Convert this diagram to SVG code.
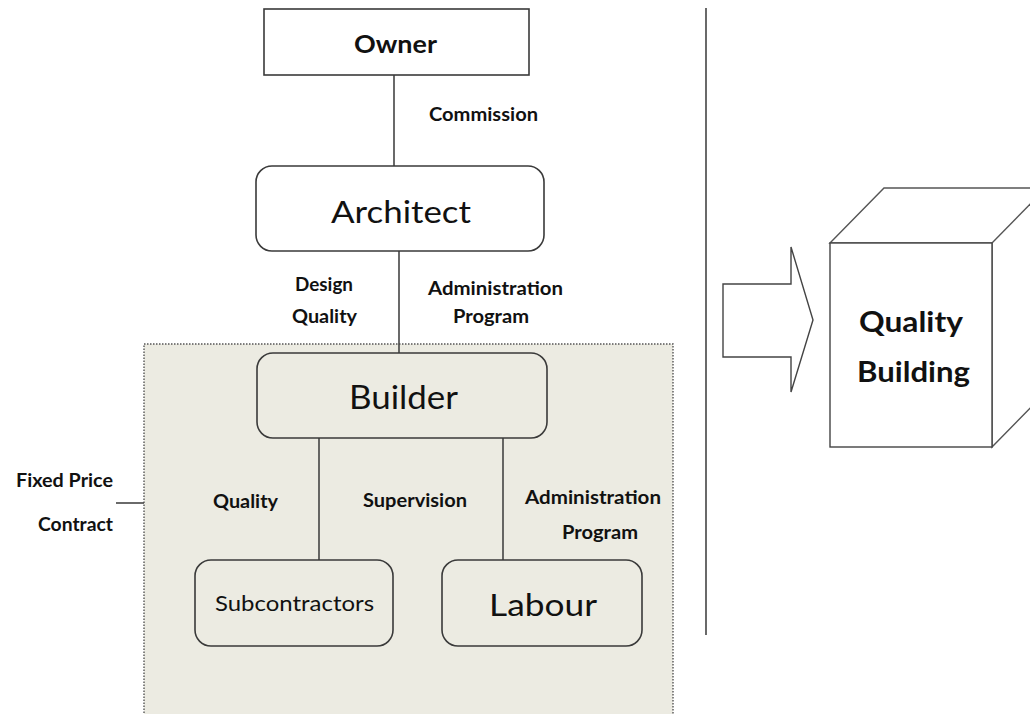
<svg xmlns="http://www.w3.org/2000/svg" width="1030" height="714" viewBox="0 0 1030 714">
<style>
.box{fill:none;stroke:#3a3a3a;stroke-width:1.6}
.wbox{fill:#ffffff;stroke:#3a3a3a;stroke-width:1.6}
.ln{stroke:#444;stroke-width:1.6;fill:none}
.t{font-family:Lato,"Open Sans","Liberation Sans",sans-serif;fill:#111}
.b{font-family:Lato,"Open Sans","Liberation Sans",sans-serif;font-weight:bold;fill:#111}
</style>
<rect width="1030" height="714" fill="#ffffff"/>
<g id="contract-zone">
<rect x="144" y="344" width="529" height="380" fill="#ecebe2" stroke="#555" stroke-width="1.4" stroke-dasharray="1.5 1.5"/>
</g>
<g id="connectors">
<line class="ln" x1="394" y1="75" x2="394" y2="166"/>
<line class="ln" x1="399" y1="251" x2="399" y2="353"/>
<line class="ln" x1="319" y1="438" x2="319" y2="560"/>
<line class="ln" x1="503" y1="438" x2="503" y2="560"/>
<line class="ln" x1="116" y1="503" x2="144" y2="503"/>
<line class="ln" x1="706" y1="8" x2="706" y2="635"/>
</g>
<g id="labels">
<text class="b" x="429" y="121" font-size="18" textLength="109" lengthAdjust="spacingAndGlyphs">Commission</text>
<text class="b" x="295" y="291" font-size="18" textLength="58" lengthAdjust="spacingAndGlyphs">Design</text>
<text class="b" x="292" y="323" font-size="18" textLength="65" lengthAdjust="spacingAndGlyphs">Quality</text>
<text class="b" x="428" y="295" font-size="18" textLength="135" lengthAdjust="spacingAndGlyphs">Administration</text>
<text class="b" x="453" y="323" font-size="18" textLength="76" lengthAdjust="spacingAndGlyphs">Program</text>
<text class="b" x="213" y="508" font-size="18" textLength="65" lengthAdjust="spacingAndGlyphs">Quality</text>
<text class="b" x="363" y="507" font-size="18" textLength="104" lengthAdjust="spacingAndGlyphs">Supervision</text>
<text class="b" x="525" y="504" font-size="18" textLength="136" lengthAdjust="spacingAndGlyphs">Administration</text>
<text class="b" x="562" y="539" font-size="18" textLength="76" lengthAdjust="spacingAndGlyphs">Program</text>
<text class="b" x="16" y="487" font-size="18" textLength="97" lengthAdjust="spacingAndGlyphs">Fixed Price</text>
<text class="b" x="38" y="531" font-size="18" textLength="75" lengthAdjust="spacingAndGlyphs">Contract</text>
</g>
<g id="owner">
<rect class="wbox" x="264" y="9" width="265" height="66"/>
<text class="b" x="354" y="53" font-size="25" textLength="83" lengthAdjust="spacingAndGlyphs">Owner</text>
</g>
<g id="architect">
<rect class="wbox" x="256" y="166" width="288" height="85" rx="16"/>
<text class="t" x="331" y="223" font-size="31" textLength="140" lengthAdjust="spacingAndGlyphs">Architect</text>
</g>
<g id="builder">
<rect class="box" x="257" y="353" width="290" height="85" rx="16"/>
<text class="t" x="349" y="409" font-size="32" textLength="109" lengthAdjust="spacingAndGlyphs">Builder</text>
</g>
<g id="subcontractors">
<rect class="box" x="195" y="560" width="198" height="86" rx="16"/>
<text class="t" x="215" y="611" font-size="22" textLength="159" lengthAdjust="spacingAndGlyphs">Subcontractors</text>
</g>
<g id="labour">
<rect class="box" x="442" y="560" width="200" height="86" rx="16"/>
<text class="t" x="489" y="616" font-size="30" textLength="108" lengthAdjust="spacingAndGlyphs">Labour</text>
</g>
<g id="arrow">
<polygon points="723,284 791,284 791,247 813,320 791,392 791,357 723,357" fill="#ffffff" stroke="#444" stroke-width="1.4"/>
</g>
<g id="quality-building">
<polygon points="830,243 884,188 1046,188 1046,392 992,447 992,243" fill="#ffffff" stroke="#555" stroke-width="1.4"/>
<line x1="992" y1="243" x2="1046" y2="188" stroke="#555" stroke-width="1.4"/>
<rect x="830" y="243" width="162" height="204" fill="#ffffff" stroke="#444" stroke-width="1.4"/>
<text class="b" x="859" y="332" font-size="28" textLength="104" lengthAdjust="spacingAndGlyphs">Quality</text>
<text class="b" x="857" y="382" font-size="28" textLength="113" lengthAdjust="spacingAndGlyphs">Building</text>
</g>
</svg>
